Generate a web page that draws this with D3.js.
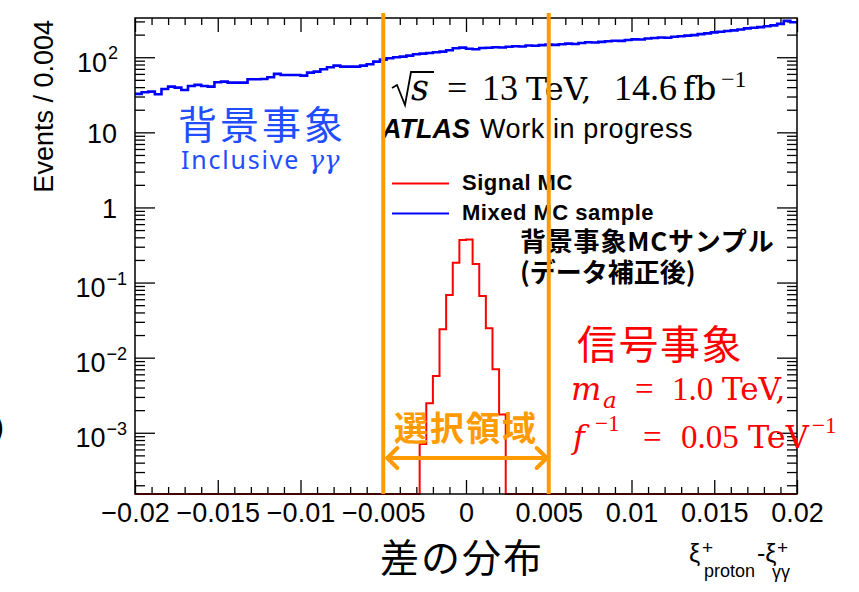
<!DOCTYPE html>
<html>
<head>
<meta charset="utf-8">
<script src="https://cdn.jsdelivr.net/npm/d3@7"></script>
<style>
  html, body { margin: 0; padding: 0; background: #fff; }
  svg { display: block; }
</style>
</head>
<body>
<script>
// ---- histogram definition ----
const nBins = 100;
const xMin = -0.02;
const xMax = 0.02;

// Mixed MC sample (background), events per bin
const bgCounts = [
  32.5, 34.2, 34.9, 32.1, 37.8, 40.6, 39.4, 36.7, 41.5, 42.8,
  41.5, 40.6, 46.4, 47.3, 45.9, 45.9, 45.9, 50.9, 50.9, 51.4,
  54.2, 60.0, 58.1, 58.1, 58.1, 56.9, 62.3, 64.3, 69.2, 73.6,
  77.3, 75.0, 75.0, 75.0, 77.3, 80.7, 87.4, 92.9, 97.0, 100,
  101.8, 105, 109.6, 111.6, 114, 116.6, 118.8, 124, 131.8, 134.3,
  130, 128, 133, 134, 136, 135, 138, 140, 139, 143,
  142, 145, 147, 146, 149, 152, 150, 155, 158, 157,
  160, 163, 166, 165, 170, 173, 172, 178, 180, 183,
  182, 187, 190, 194, 197, 203, 208, 214, 218, 224,
  228, 234, 242, 247, 252, 258, 266, 278, 305, 292
];

// Signal MC: non-empty bins start at bin index sigFirstBin
const sigFirstBin = 43;
const sigCounts = [
  7.1e-4, 2.47e-3, 5.7e-3, 0.0239, 0.0684, 0.184, 0.37,
  0.375, 0.177, 0.0664, 0.0246, 7.0e-3, 1.75e-3
];

// selection window on xi difference
const selWindow = [-0.005, 0.005];

// axis ticks
const xMajor = [-0.02, -0.015, -0.01, -0.005, 0, 0.005, 0.01, 0.015, 0.02];
const xTickLabels = ["\u22120.02", "\u22120.015", "\u22120.01", "\u22120.005", "0", "0.005", "0.01", "0.015", "0.02"];
const yMajor = [1e-3, 1e-2, 1e-1, 1, 10, 100];
const yTickLabels = [["10", "\u22123"], ["10", "\u22122"], ["10", "\u22121"], ["1", ""], ["10", ""], ["10", "2"]];
const yRange = [1.53e-4, 333];

// ---- layout ----
const W = 859, H = 592;
const frame = { left: 135, right: 797, top: 18, bottom: 494 };
const ORANGE = "#ff9a00";
const SANS = "'Liberation Sans', Arial, Helvetica, sans-serif";
const SERIF = "'Liberation Serif', 'Times New Roman', serif";
const MATH = "'DejaVu Serif', serif";
const CJK = "'Noto Sans CJK JP', 'Noto Sans CJK SC', sans-serif";

const svg = d3.select("body").append("svg")
  .attr("width", W).attr("height", H)
  .attr("viewBox", `0 0 ${W} ${H}`);

const x = d3.scaleLinear().domain([xMin, xMax]).range([frame.left, frame.right]);
const y = d3.scaleLog().domain(yRange).range([frame.bottom, frame.top]);
const binW = (xMax - xMin) / nBins;

// ---- axes (ROOT style: ticks drawn inward on all four sides) ----
const xMinor = d3.range(-20, 21).filter(k => k % 5 !== 0).map(k => k / 1000);
const yMinor = [];
for (let d = -4; d <= 2; d++) for (let m = 2; m <= 9; m++) {
  const v = m * Math.pow(10, d);
  if (v > yRange[0] && v < yRange[1]) yMinor.push(v);
}

function styleAxis(g) {
  g.select(".domain").remove();
  g.selectAll(".tick line").attr("stroke", "#000").attr("stroke-width", 1.3);
  g.attr("font-family", SANS).attr("font-size", 27);
}

svg.append("g").attr("transform", `translate(0,${frame.bottom})`)
  .call(d3.axisBottom(x).tickValues(xMajor).tickSize(-14).tickPadding(9)
    .tickFormat((d, i) => xTickLabels[i]))
  .call(styleAxis)
  .selectAll("text").attr("fill", "#000");
svg.append("g").attr("transform", `translate(0,${frame.bottom})`)
  .call(d3.axisBottom(x).tickValues(xMinor).tickSize(-7).tickFormat(""))
  .call(styleAxis);
svg.append("g").attr("transform", `translate(0,${frame.top})`)
  .call(d3.axisTop(x).tickValues(xMajor).tickSize(-14).tickFormat(""))
  .call(styleAxis);
svg.append("g").attr("transform", `translate(0,${frame.top})`)
  .call(d3.axisTop(x).tickValues(xMinor).tickSize(-7).tickFormat(""))
  .call(styleAxis);

const yAxisG = svg.append("g").attr("transform", `translate(${frame.left},0)`)
  .call(d3.axisLeft(y).tickValues(yMajor).tickSize(-20).tickPadding(18)
    .tickFormat((d, i) => yTickLabels[i][0]))
  .call(styleAxis);
// labels: plain and positive exponents end near x=118, negative exponents near x=127
yAxisG.selectAll(".tick text").each(function (d, i) {
  const [base, exp] = yTickLabels[i];
  const t = d3.select(this).attr("fill", "#000").attr("text-anchor", "end");
  if (!exp) { t.attr("dy", 10).attr("x", 117 - frame.left); return; }
  const neg = exp.startsWith("\u2212");
  t.attr("dy", 14).attr("x", (neg ? 127 : 118) - frame.left);
  t.text(null);
  t.append("tspan").text(base);
  t.append("tspan").attr("font-size", 18).attr("dy", -12.5).attr("dx", 1).text(exp);
});
svg.append("g").attr("transform", `translate(${frame.left},0)`)
  .call(d3.axisLeft(y).tickValues(yMinor).tickSize(-10).tickFormat(""))
  .call(styleAxis);
svg.append("g").attr("transform", `translate(${frame.right},0)`)
  .call(d3.axisRight(y).tickValues(yMajor).tickSize(-20).tickFormat(""))
  .call(styleAxis);
svg.append("g").attr("transform", `translate(${frame.right},0)`)
  .call(d3.axisRight(y).tickValues(yMinor).tickSize(-10).tickFormat(""))
  .call(styleAxis);

// ---- histograms ----
function histPoints(counts, first) {
  const floor = yRange[0];
  const pts = [];
  for (let i = 0; i < nBins; i++) {
    const k = i - first;
    const v = (k >= 0 && k < counts.length) ? counts[k] : 0;
    pts.push([xMin + i * binW, Math.max(v, floor)]);
  }
  pts.push([xMax, pts[pts.length - 1][1]]);
  return pts;
}
const stepLine = d3.line()
  .x(d => x(d[0])).y(d => y(d[1]))
  .curve(d3.curveStepAfter);

svg.append("path").datum(histPoints(sigCounts, sigFirstBin))
  .attr("d", stepLine).attr("fill", "none")
  .attr("stroke", "#ff0000").attr("stroke-width", 2);
svg.append("path").datum(histPoints(bgCounts, 0))
  .attr("d", stepLine).attr("fill", "none")
  .attr("stroke", "#0000ff").attr("stroke-width", 2.6);

// frame
svg.append("rect")
  .attr("x", frame.left).attr("y", frame.top)
  .attr("width", frame.right - frame.left).attr("height", frame.bottom - frame.top)
  .attr("fill", "none").attr("stroke", "#000").attr("stroke-width", 1.5);

// ---- axis titles ----
svg.append("text")
  .attr("transform", `translate(53,20) rotate(-90)`)
  .attr("text-anchor", "end")
  .attr("font-family", SANS).attr("font-size", 27).attr("fill", "#000")
  .text("Events / 0.004");

svg.append("text")
  .attr("x", 380).attr("y", 572)
  .attr("font-family", CJK).attr("font-size", 39).attr("letter-spacing", 2)
  .attr("fill", "#000").text("差の分布");

const xiT = svg.append("g").attr("font-family", SANS).attr("fill", "#000");
xiT.append("text").attr("x", 689).attr("y", 562).attr("font-size", 25).text("ξ");
xiT.append("text").attr("x", 702).attr("y", 554).attr("font-size", 19).text("+");
xiT.append("text").attr("x", 704).attr("y", 577).attr("font-size", 18).text("proton");
xiT.append("text").attr("x", 757).attr("y", 562).attr("font-size", 25).text("-ξ");
xiT.append("text").attr("x", 777).attr("y", 554).attr("font-size", 19).text("+");
xiT.append("text").attr("x", 772).attr("y", 578).attr("font-size", 18).text("γγ");

// partial bracket at the left edge
svg.append("text").attr("x", 4).attr("y", 437).attr("text-anchor", "end")
  .attr("font-family", SANS).attr("font-size", 30).attr("fill", "#000").text(")");

// ---- labels inside the frame ----
// sqrt(s) line
const sq = svg.append("g").attr("fill", "#000");
sq.append("path")
  .attr("d", "M392,88 L397,85 L405,105 L411,72 L434,72")
  .attr("fill", "none").attr("stroke", "#000").attr("stroke-width", 1.8)
  .attr("stroke-linejoin", "miter");
sq.append("text").attr("x", 411).attr("y", 100).attr("font-family", MATH)
  .attr("font-size", 35).attr("font-style", "italic").text("s");
sq.append("text").attr("x", 447).attr("y", 100).attr("font-family", SERIF).attr("font-size", 36).text("=");
sq.append("text").attr("x", 482).attr("y", 100).attr("font-family", SERIF).attr("font-size", 36).text("13");
sq.append("text").attr("x", 526).attr("y", 100).attr("font-family", MATH).attr("font-size", 32).text("TeV,");
sq.append("text").attr("x", 614).attr("y", 100).attr("font-family", SERIF).attr("font-size", 36).text("14.6");
sq.append("text").attr("x", 683).attr("y", 100).attr("font-family", MATH).attr("font-size", 33).text("fb");
sq.append("text").attr("x", 721).attr("y", 87).attr("font-family", SERIF).attr("font-size", 24).text("\u22121");

// ATLAS label
svg.append("text").attr("x", 382).attr("y", 138)
  .attr("font-family", SANS).attr("font-size", 27).attr("font-weight", "bold")
  .attr("font-style", "italic").attr("fill", "#000").text("ATLAS");
svg.append("text").attr("x", 480).attr("y", 138)
  .attr("font-family", SANS).attr("font-size", 27).attr("letter-spacing", 0.6)
  .attr("fill", "#000").text("Work in progress");

// background annotation
svg.append("text").attr("x", 178).attr("y", 139)
  .attr("font-family", CJK).attr("font-size", 39).attr("letter-spacing", 3)
  .attr("fill", "#1f4dff").text("背景事象");
const incl = svg.append("text").attr("x", 181).attr("y", 169)
  .attr("font-family", "'Noto Sans', sans-serif").attr("font-size", 25)
  .attr("fill", "#1f4dff");
incl.append("tspan").attr("letter-spacing", 1.8).text("Inclusive ");
incl.append("tspan").attr("font-family", MATH).attr("font-style", "italic")
  .attr("font-size", 26).text("γγ");

// legend
const legend = [
  { label: "Signal MC", color: "#ff0000", yy: 183.5 },
  { label: "Mixed MC sample", color: "#0000ff", yy: 213.5 }
];
const lg = svg.append("g");
lg.selectAll("line").data(legend).join("line")
  .attr("x1", 392).attr("x2", 449)
  .attr("y1", d => d.yy).attr("y2", d => d.yy)
  .attr("stroke", d => d.color).attr("stroke-width", 2);
lg.selectAll("text").data(legend).join("text")
  .attr("x", 462).attr("y", d => d.yy + 6.5)
  .attr("font-family", SANS).attr("font-size", 22).attr("font-weight", "bold")
  .attr("letter-spacing", 0.5).attr("fill", "#000")
  .text(d => d.label);

svg.append("text").attr("x", 520).attr("y", 251)
  .attr("font-family", CJK).attr("font-size", 26).attr("font-weight", "bold")
  .attr("letter-spacing", 0.8).attr("fill", "#000").text("背景事象MCサンプル");
svg.append("text").attr("x", 520).attr("y", 282)
  .attr("font-family", CJK).attr("font-size", 26).attr("font-weight", "bold")
  .attr("fill", "#000").text("(データ補正後)");

// signal annotation
svg.append("text").attr("x", 577).attr("y", 359)
  .attr("font-family", CJK).attr("font-size", 40).attr("letter-spacing", 1.5)
  .attr("fill", "#ff0000").text("信号事象");
const sg = svg.append("g").attr("fill", "#ff0000");
sg.append("text").attr("x", 571).attr("y", 400).attr("font-family", MATH)
  .attr("font-style", "italic").attr("font-size", 32).text("m");
sg.append("text").attr("x", 603).attr("y", 408).attr("font-family", MATH)
  .attr("font-style", "italic").attr("font-size", 23).text("a");
sg.append("text").attr("x", 635).attr("y", 400).attr("font-family", SERIF).attr("font-size", 33).text("=");
sg.append("text").attr("x", 672).attr("y", 400).attr("font-family", SERIF).attr("font-size", 33).text("1.0");
sg.append("text").attr("x", 722).attr("y", 400).attr("font-family", MATH).attr("font-size", 31).text("TeV,");
sg.append("text").attr("x", 573).attr("y", 448).attr("font-family", MATH)
  .attr("font-style", "italic").attr("font-size", 32).text("f");
sg.append("text").attr("x", 595).attr("y", 431).attr("font-family", SERIF).attr("font-size", 23).text("\u22121");
sg.append("text").attr("x", 643).attr("y", 448).attr("font-family", SERIF).attr("font-size", 33).text("=");
sg.append("text").attr("x", 681).attr("y", 448).attr("font-family", SERIF).attr("font-size", 33).text("0.05");
sg.append("text").attr("x", 748).attr("y", 448).attr("font-family", MATH).attr("font-size", 32).text("TeV");
sg.append("text").attr("x", 812).attr("y", 433).attr("font-family", SERIF).attr("font-size", 23).text("\u22121");

// ---- selection window ----
const sel = svg.append("g").attr("stroke", ORANGE).attr("fill", "none");
sel.selectAll("line.cut").data(selWindow).join("line")
  .attr("class", "cut")
  .attr("x1", d => x(d)).attr("x2", d => x(d))
  .attr("y1", frame.top - 5).attr("y2", frame.bottom)
  .attr("stroke-width", 4);

const arrowY = 458;
const ax0 = x(selWindow[0]) + 4, ax1 = x(selWindow[1]) - 2;
sel.append("line").attr("x1", ax0).attr("x2", ax1)
  .attr("y1", arrowY).attr("y2", arrowY).attr("stroke-width", 4);
sel.append("path")
  .attr("d", `M${ax0 + 10},${arrowY - 10} L${ax0},${arrowY} L${ax0 + 10},${arrowY + 10}` +
             `M${ax1 - 10},${arrowY - 10} L${ax1},${arrowY} L${ax1 - 10},${arrowY + 10}`)
  .attr("stroke-width", 4).attr("stroke-linecap", "round").attr("stroke-linejoin", "round");

svg.append("text").attr("x", x(0)).attr("y", 441)
  .attr("text-anchor", "middle")
  .attr("font-family", CJK).attr("font-size", 34).attr("font-weight", "bold")
  .attr("letter-spacing", 2).attr("fill", ORANGE)
  .text("選択領域");
</script>
</body>
</html>
